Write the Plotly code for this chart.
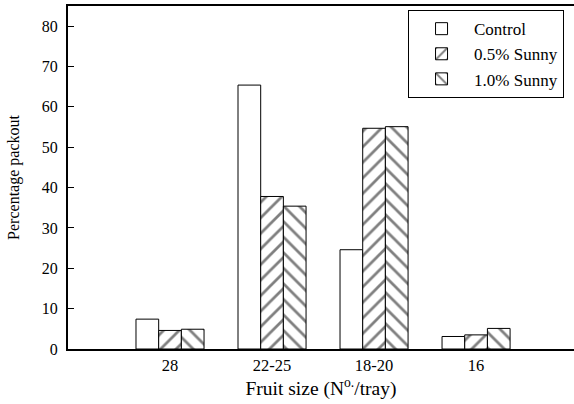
import plotly.graph_objects as go

categories = ["28", "22-25", "18-20", "16"]
control = [7.4, 65.4, 24.6, 3.1]
sunny_05 = [4.6, 37.8, 54.7, 3.5]
sunny_10 = [4.9, 35.4, 55.1, 5.1]
y_ticks = [0, 10, 20, 30, 40, 50, 60, 70, 80]

FONT = "Liberation Serif"

fig = go.Figure()
series = [
    ("Control", control, ""),
    ("0.5% Sunny", sunny_05, "/"),
    ("1.0% Sunny", sunny_10, "\\"),
]
for name, vals, shape in series:
    fig.add_trace(go.Bar(
        name=name, x=categories, y=vals,
        marker=dict(
            color="white",
            line=dict(color="black", width=1),
            pattern=dict(shape=shape, fgcolor="black", bgcolor="white",
                         size=11, solidity=0.25, fillmode="overlay"),
        ),
    ))

fig.update_layout(
    width=574, height=404,
    margin=dict(l=68, r=0, t=6, b=55),
    paper_bgcolor="white", plot_bgcolor="white",
    barmode="group", bargap=0.333, bargroupgap=0,
    font=dict(family=FONT, color="black", size=14),
    showlegend=True,
    legend=dict(
        x=0.672, y=0.988, xanchor="left", yanchor="top",
        bordercolor="black", borderwidth=1, bgcolor="white",
        font=dict(family=FONT, size=17, color="black"),
        itemwidth=55, tracegroupgap=4,
    ),
    xaxis=dict(
        type="category", range=[-1, 3.96], automargin=False,
        showline=True, linecolor="black", linewidth=2, mirror=True,
        ticks="", showgrid=False, zeroline=False,
        tickfont=dict(family=FONT, size=16.5),
        title=dict(text="Fruit size (N<sup>o.</sup>/tray)",
                   font=dict(family=FONT, size=19.5), standoff=3),
    ),
    yaxis=dict(
        range=[0, 85], tickvals=y_ticks, automargin=False,
        showline=True, linecolor="black", linewidth=2, mirror=False,
        ticks="inside", ticklen=6, tickwidth=1, tickcolor="black",
        showgrid=False, zeroline=False, ticklabelstandoff=5,
        tickfont=dict(family=FONT, size=16),
        title=dict(text="Percentage packout",
                   font=dict(family=FONT, size=16), standoff=18),
    ),
)

fig.write_html(
    "out.html",
    config={"displayModeBar": False},
    post_script="document.body.style.margin='0';document.body.style.overflow='hidden';",
)
